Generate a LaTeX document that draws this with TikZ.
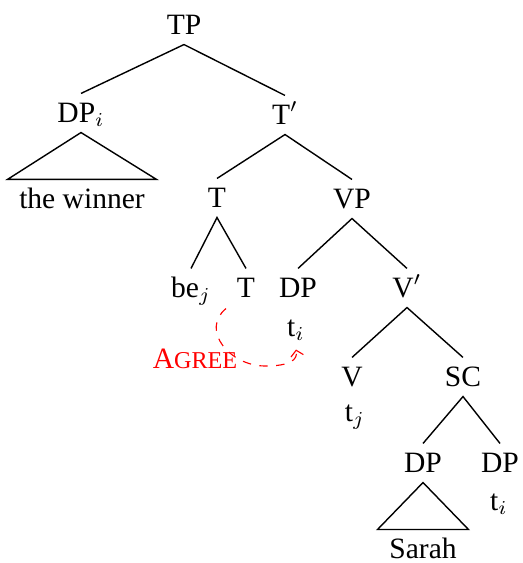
\documentclass[tikz,border=0pt]{standalone}
\usepackage{fontspec}
\setmainfont{Liberation Serif}
\usetikzlibrary{arrows.meta,calc}
\definecolor{AgreeRed}{HTML}{FF0000}

\begin{document}
\begin{tikzpicture}[x=0.0125cm,y=-0.0125cm,font=\fontsize{10.5}{12}\selectfont,
    cat/.style={inner sep=1pt,text height=9pt,text depth=2.5pt},
    leaf/.style={cat,inner xsep=4pt},
    branch/.style={line width=0.5pt},
    agreeline/.style={AgreeRed,dashed,-{Straight Barb[length=2pt,width=4.5pt]}}]
  \useasboundingbox (0,0) rectangle (523,563);
  % categories
  \node[cat] (tp) at (184,25) {TP};
  \node[cat] (dpi) at (81,113) {DP$_i$};
  \node[cat] (tbar) at (285,115) {T$'$};
  \node[cat] (t) at (217,198) {T};
  \node[cat] (vp) at (352,199) {VP};
  \node[cat] (be) at (191,288) {be$_j$};
  \node[cat] (tlow) at (246,288) {T};
  \node[cat] (dp) at (298,288) {DP};
  \node[cat] (vbar) at (407,288) {V$'$};
  \node[cat] (v) at (352,377) {V};
  \node[cat] (sc) at (463,377) {SC};
  \node[cat] (dps) at (423,463) {DP};
  \node[cat] (dpt) at (500,463) {DP};
  % traces and leaves
  \node[cat] (ti) at (296,327) {t$_i$};
  \node[cat] (tj) at (355,412) {t$_j$};
  \node[cat] (tii) at (499,501) {t$_i$};
  \node[leaf] (winner) at (82,199) {the winner};
  \node[leaf] (sarah) at (423,549) {Sarah};
  % branches
  \draw[branch] (dpi.north) -- (tp.south) -- (tbar.north);
  \draw[branch] (t.north) -- (tbar.south) -- (vp.north);
  \draw[branch] (be.north) -- (t.south) -- (tlow.north);
  \draw[branch] (dp.north) -- (vp.south) -- (vbar.north);
  \draw[branch] (v.north) -- (vbar.south) -- (sc.north);
  \draw[branch] (dps.north) -- (sc.south) -- (dpt.north);
  % triangles
  \draw[branch] (dpi.south) -- (winner.north west) -- (winner.north east) -- cycle;
  \draw[branch] (dps.south) -- (sarah.north west) -- (sarah.north east) -- cycle;
  % agree
  \coordinate (agreestart) at ($(tlow.south)+(-20,1)$);
  \coordinate (agreelow) at (265,366);
  \node[text=AgreeRed] (agree) at (195,359) {A{\fontsize{8.6}{10}\selectfont GREE}};
  \draw[agreeline] (agreestart) .. controls (200,330) and (230,366) .. (agreelow)
    .. controls (290,366) and (298,360) .. ($(ti.south)+(0,3)$);
\end{tikzpicture}
\end{document}
